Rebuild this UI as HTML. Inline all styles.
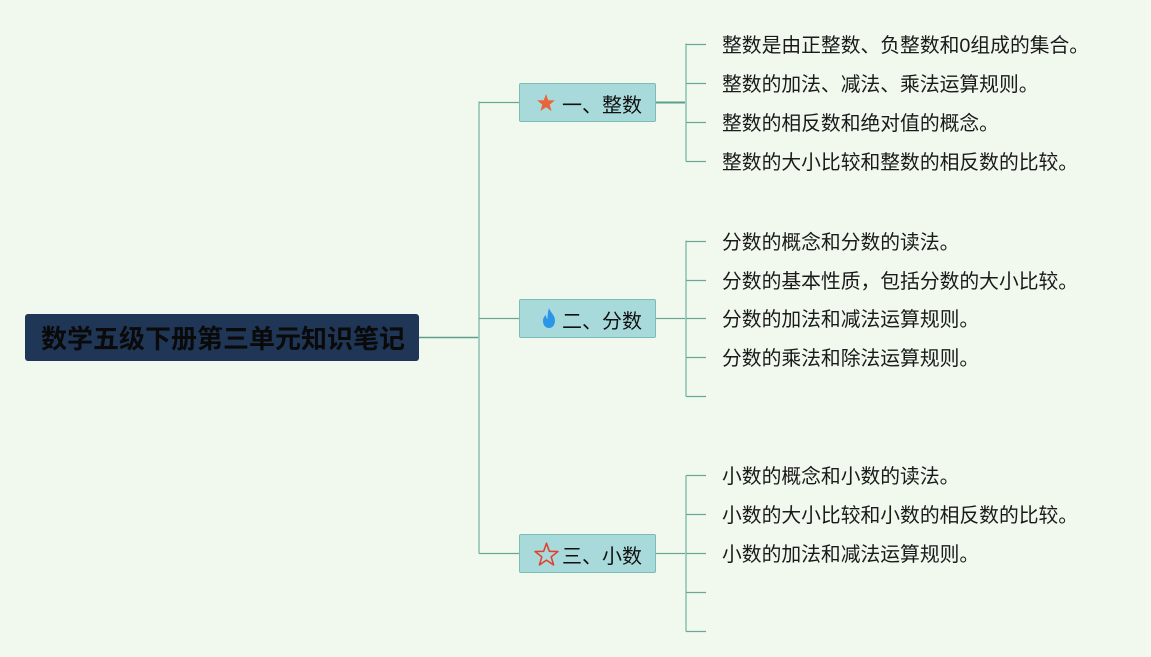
<!DOCTYPE html>
<html><head><meta charset="utf-8">
<style>
html,body{margin:0;padding:0;}
body{width:1151px;height:657px;background:#f1f9ef;position:relative;overflow:hidden;font-family:"Liberation Sans","Noto Sans CJK SC",sans-serif;}
.root{position:absolute;left:25px;top:314px;width:394px;height:47px;background:#1f3656;border-radius:3px;}
.root span{position:absolute;left:16px;top:0;line-height:47px;font-size:26px;font-weight:bold;color:#0a0a0a;font-family:"Noto Sans CJK SC",sans-serif;white-space:nowrap;}
.br{position:absolute;left:519px;width:135px;height:37px;background:#a9dadb;border:1px solid #7cbcb2;border-radius:2px;}
.br span{position:absolute;left:42px;top:1px;line-height:37px;font-size:20px;color:#111;font-family:"Noto Sans CJK SC",sans-serif;white-space:nowrap;}
.br svg{position:absolute;}
.t{position:absolute;left:722px;font-size:19.8px;line-height:24px;color:#1a1a1a;white-space:nowrap;font-family:"Liberation Sans","Noto Sans CJK SC",sans-serif;}
svg.lines{position:absolute;left:0;top:0;}
</style></head><body>
<svg class="lines" width="1151" height="657">
  <line x1="419" y1="337.5" x2="479" y2="337.5" stroke="#5e9e8a" stroke-width="1.6"/>
  <line x1="479" y1="101.5" x2="479" y2="553.5" stroke="#9ccabd" stroke-width="1.8"/>
  <g stroke="#6aa896" stroke-width="1.2">
    <line x1="479" y1="102.5" x2="519" y2="102.5"/>
    <line x1="479" y1="318.5" x2="519" y2="318.5"/>
    <line x1="479" y1="553.5" x2="519" y2="553.5"/>
  </g>
  <g stroke="#5c9e8c" stroke-width="2">
    <line x1="656" y1="102.5" x2="686" y2="102.5"/>
  </g>
  <g stroke="#6aa896" stroke-width="1.2">
    <line x1="656" y1="318.5" x2="686" y2="318.5"/>
    <line x1="656" y1="553.5" x2="686" y2="553.5"/>
  </g>
  <g stroke="#a3cfc1" stroke-width="2">
    <line x1="686" y1="43.5" x2="686" y2="161.5"/>
    <line x1="686" y1="240.5" x2="686" y2="396.5"/>
    <line x1="686" y1="475.5" x2="686" y2="631.5"/>
  </g>
  <g stroke="#6aa896" stroke-width="1.2">
    <line x1="686" y1="44.5" x2="706" y2="44.5"/>
    <line x1="686" y1="83.5" x2="706" y2="83.5"/>
    <line x1="686" y1="122.5" x2="706" y2="122.5"/>
    <line x1="686" y1="161.5" x2="706" y2="161.5"/>
    <line x1="686" y1="241.5" x2="706" y2="241.5"/>
    <line x1="686" y1="280.5" x2="706" y2="280.5"/>
    <line x1="686" y1="318.5" x2="706" y2="318.5"/>
    <line x1="686" y1="357.5" x2="706" y2="357.5"/>
    <line x1="686" y1="396.5" x2="706" y2="396.5"/>
    <line x1="686" y1="475.5" x2="706" y2="475.5"/>
    <line x1="686" y1="514.5" x2="706" y2="514.5"/>
    <line x1="686" y1="553.5" x2="706" y2="553.5"/>
    <line x1="686" y1="592.5" x2="706" y2="592.5"/>
    <line x1="686" y1="631.5" x2="706" y2="631.5"/>
  </g>
</svg>

<div class="root"><span>数学五级下册第三单元知识笔记</span></div>

<div class="br" style="top:83px;">
  <svg style="left:17px;top:10px;" width="18" height="17" viewBox="0 0 24 23"><polygon points="12,0 15,8.5 24,8.7 17,14.3 19.5,23 12,18 4.5,23 7,14.3 0,8.7 9,8.5" fill="#e8643a"/></svg>
  <span>一、整数</span>
</div>
<div class="br" style="top:299px;">
  <svg style="left:22px;top:8px;" width="14" height="20" viewBox="0 0 14 20"><path d="M7,0 C8,4 13,7 13,12.5 C13,17 10.5,20 7,20 C3.5,20 1,17 1,13 C1,10 2.5,8 4,7 C4,9 4.5,10.5 5.5,11 C5.5,7 6,3 7,0 Z" fill="#2b95e8"/></svg>
  <span>二、分数</span>
</div>
<div class="br" style="top:534px;">
  <svg style="left:14px;top:7px;" width="25" height="24" viewBox="0 0 24 23"><polygon points="12,1.2 14.7,8.9 23,9.1 16.5,14.2 18.8,22 12,17.4 5.2,22 7.5,14.2 1,9.1 9.3,8.9" fill="none" stroke="#e0412f" stroke-width="1.5" stroke-linejoin="round"/></svg>
  <span>三、小数</span>
</div>

<div class="t" style="top:34px;">整数是由正整数、负整数和0组成的集合。</div>
<div class="t" style="top:73px;">整数的加法、减法、乘法运算规则。</div>
<div class="t" style="top:112px;">整数的相反数和绝对值的概念。</div>
<div class="t" style="top:151px;">整数的大小比较和整数的相反数的比较。</div>

<div class="t" style="top:231px;">分数的概念和分数的读法。</div>
<div class="t" style="top:270px;">分数的基本性质，包括分数的大小比较。</div>
<div class="t" style="top:308px;">分数的加法和减法运算规则。</div>
<div class="t" style="top:347px;">分数的乘法和除法运算规则。</div>

<div class="t" style="top:465px;">小数的概念和小数的读法。</div>
<div class="t" style="top:504px;">小数的大小比较和小数的相反数的比较。</div>
<div class="t" style="top:543px;">小数的加法和减法运算规则。</div>
</body></html>
